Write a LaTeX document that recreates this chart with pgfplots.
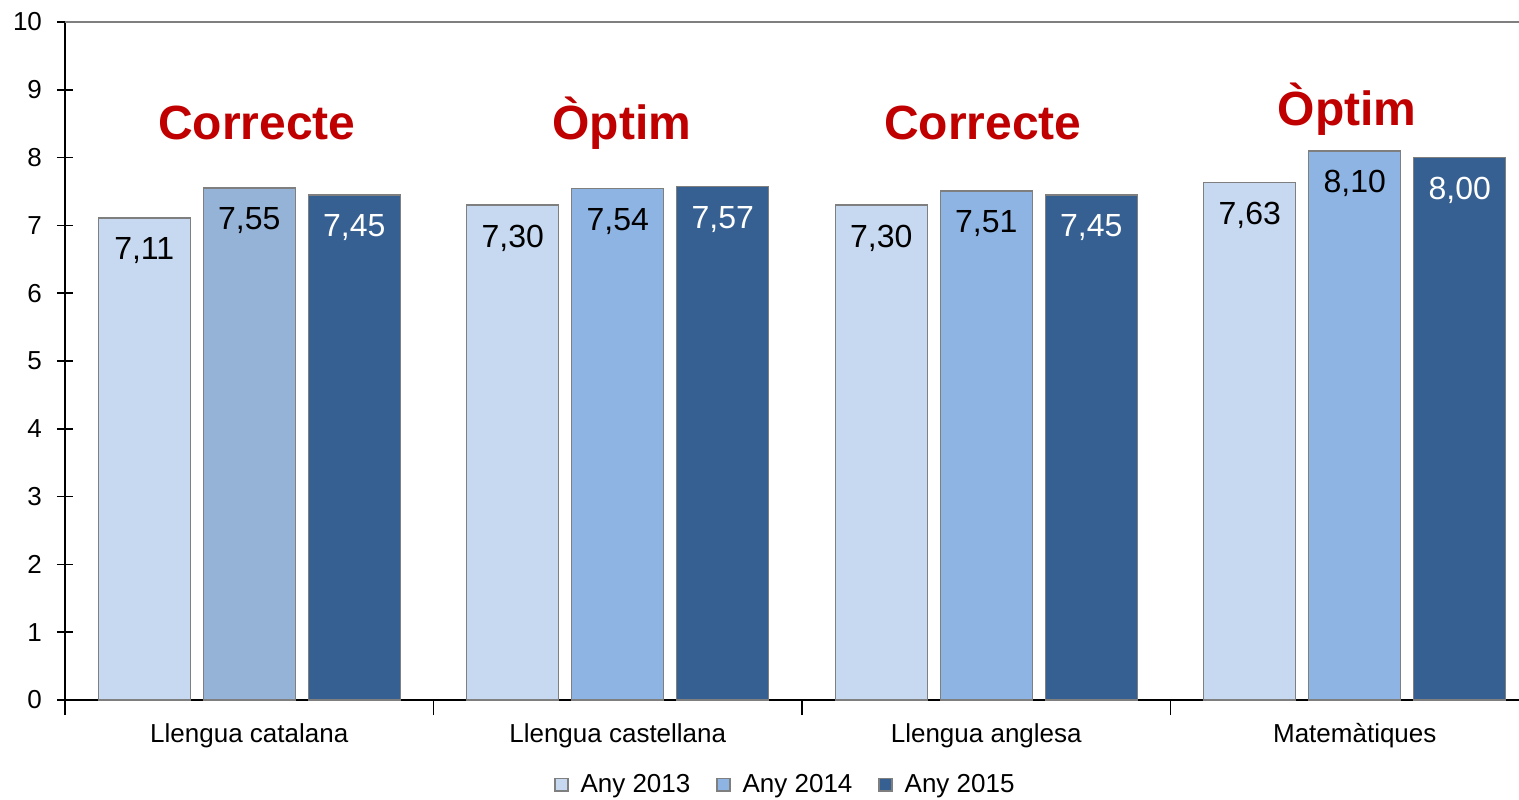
\documentclass[border=0pt]{standalone}
\usepackage{pgfplots}
\pgfplotsset{compat=1.18}
\usepackage{fontspec}
\setmainfont{Liberation Sans}
\definecolor{c13}{HTML}{C6D9F1}
\definecolor{c14}{HTML}{8EB4E3}
\definecolor{c14a}{HTML}{95B3D7}
\definecolor{c15}{HTML}{376092}
\definecolor{redt}{HTML}{C00000}
\definecolor{edge}{HTML}{7F7F7F}
\begin{document}
\begin{tikzpicture}
\begin{axis}[
 x=184.25pt, y=33.9pt,
 xmin=-0.5, xmax=3.447, ymin=0, ymax=10,
 clip=false,
 axis x line=bottom, axis y line=left,
 axis line style={-, black, line width=0.8pt},
 ytick={0,1,...,10},
 xtick={0,1,2,3},
 xticklabels={Llengua catalana, Llengua castellana, Llengua anglesa, Matemàtiques},
 minor xtick={-0.5,0.5,1.5,2.5},
 major x tick style={draw=none},
 minor x tick style={black, line width=0.8pt},
 major y tick style={black, line width=0.8pt},
 tick align=center,
 major tick length=8pt, minor tick length=7.5pt,
 /pgf/number format/assume math mode=true,
 ticklabel style={font=\fontsize{13}{15}\selectfont},
 xticklabel style={yshift=0pt, text height=9.6pt, text depth=2.8pt},
 yticklabel style={xshift=-4pt},
 ybar, bar width=46pt,
 nodes near coords,
 point meta=explicit symbolic,
 every node near coord/.append style={anchor=north, yshift=-6.2pt, font=\fontsize{16}{18}\selectfont},
 legend style={at={(0.496,-0.125)}, anchor=center, draw=none, fill=none,
   legend columns=3, font=\fontsize{13}{15}\selectfont,
   /tikz/every odd column/.append style={column sep=4pt},
   /tikz/every even column/.append style={column sep=11pt}},
 legend image code/.code={\draw[#1] (0pt,-3.2pt) rectangle (6.4pt,3.2pt);},
]
\addplot[bar shift=-52.5pt, fill=c13, draw=edge, line width=0.7pt,
  every node near coord/.append style={text=black}] coordinates {
 (0,7.11) [7,11]
 (1,7.30) [7,30]
 (2,7.30) [7,30]
 (3,7.63) [7,63]
};
\addplot[bar shift=0pt, fill=c14, draw=edge, line width=0.7pt,
  every node near coord/.append style={text=black}] coordinates {
 (1,7.54) [7,54]
 (2,7.51) [7,51]
 (3,8.10) [8,10]
};
\addplot[bar shift=52.5pt, fill=c15, draw=edge, line width=0.7pt,
  every node near coord/.append style={text=white}] coordinates {
 (0,7.45) [7,45]
 (1,7.57) [7,57]
 (2,7.45) [7,45]
 (3,8.00) [8,00]
};
\addplot[bar shift=0pt, fill=c14a, draw=edge, line width=0.7pt, forget plot,
  every node near coord/.append style={text=black}] coordinates {
 (0,7.55) [7,55]
};
\legend{Any 2013, Any 2014, Any 2015}
\draw[color=edge, line width=0.8pt] (axis cs:-0.5,10) -- (axis cs:3.447,10);
\node[anchor=base, text=redt, font=\bfseries\fontsize{24}{26}\selectfont] at (axis cs:0.021,8.27) {Correcte};
\node[anchor=base, text=redt, font=\bfseries\fontsize{24}{26}\selectfont] at (axis cs:1.011,8.27) {Òptim};
\node[anchor=base, text=redt, font=\bfseries\fontsize{24}{26}\selectfont] at (axis cs:1.991,8.27) {Correcte};
\node[anchor=base, text=redt, font=\bfseries\fontsize{24}{26}\selectfont] at (axis cs:2.979,8.47) {Òptim};
\end{axis}
\pgfresetboundingbox
\path[use as bounding box] (-32.5pt,-49.5pt) rectangle (727pt,350pt);
\end{tikzpicture}
\end{document}
